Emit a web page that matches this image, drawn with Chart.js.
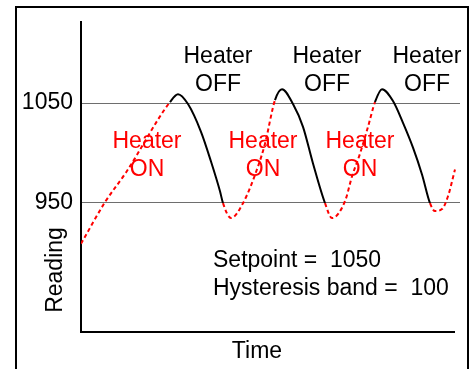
<!DOCTYPE html>
<html>
<head>
<meta charset="utf-8">
<script src="https://cdn.jsdelivr.net/npm/chart.js@4/dist/chart.umd.min.js"></script>
<style>
  body { margin: 0; background: #fff; }
  canvas { display: block; }
</style>
</head>
<body>
<canvas id="reading-chart" width="470" height="369"></canvas>
<script>
// reading over time, with the heater state for the segment that starts at each point
const timeValues = [0, 24, 45, 89, 97, 107, 120, 130, 139, 142, 150, 162, 177, 184, 194, 201, 212, 222, 232, 244,
                    251, 264, 271, 279, 287, 294, 301, 312, 322, 332, 341, 349, 354, 361, 367, 374];
const readingValues = [908, 950, 980, 1051, 1059, 1049, 1021, 991, 961, 949, 934, 949, 986, 1009, 1053, 1064, 1049, 1026, 989, 949,
                       934, 951, 976, 999, 1026, 1051, 1064, 1052, 1030, 1005, 978, 949, 941, 943, 956, 983];
const heaterState = ['ON', 'ON', 'ON', 'OFF', 'OFF', 'OFF', 'OFF', 'OFF', 'OFF', 'ON', 'ON', 'ON', 'ON', 'ON', 'OFF', 'OFF', 'OFF', 'OFF', 'OFF', 'ON',
                     'ON', 'ON', 'ON', 'ON', 'ON', 'OFF', 'OFF', 'OFF', 'OFF', 'OFF', 'OFF', 'ON', 'ON', 'ON', 'ON', 'ON'];
const yTickValues = [950, 1050];

const FONT = '23px "Liberation Sans", Arial, sans-serif';

const points = timeValues.map((t, i) => ({x: t, y: readingValues[i]}));

const decorations = {
    id: 'decorations',
    beforeDraw(chart) {
        const ctx = chart.ctx;
        ctx.save();
        ctx.fillStyle = '#fff';
        ctx.fillRect(0, 0, chart.width, chart.height);
        // outer frame
        ctx.strokeStyle = '#000';
        ctx.lineWidth = 2;
        ctx.beginPath();
        ctx.moveTo(16, chart.height);
        ctx.lineTo(16, 7);
        ctx.lineTo(468, 7);
        ctx.lineTo(468, chart.height);
        ctx.stroke();
        ctx.restore();
    },
    afterDraw(chart) {
        const ctx = chart.ctx;
        const area = chart.chartArea;
        const xScale = chart.scales.x;
        ctx.save();

        // time axis line
        ctx.strokeStyle = '#000';
        ctx.lineWidth = 2;
        ctx.beginPath();
        ctx.moveTo(area.left - 1, area.bottom);
        ctx.lineTo(xScale.getPixelForValue(timeValues[timeValues.length - 1]), area.bottom);
        ctx.stroke();

        ctx.font = FONT;
        ctx.textBaseline = 'alphabetic';
        ctx.textAlign = 'center';

        ctx.fillStyle = '#000';
        [218, 327, 427].forEach(cx => {
            ctx.fillText('Heater', cx, 63);
            ctx.fillText('OFF', cx, 91);
        });

        ctx.fillStyle = '#ff0000';
        [147, 263, 360].forEach(cx => {
            ctx.fillText('Heater', cx, 148);
            ctx.fillText('ON', cx, 176);
        });

        ctx.fillStyle = '#000';
        ctx.fillText('Time', 257, 358);

        ctx.textAlign = 'left';
        ctx.fillText('Setpoint =  1050', 213, 267);
        ctx.fillText('Hysteresis band =  100', 213, 295);

        ctx.translate(62, 270);
        ctx.rotate(-Math.PI / 2);
        ctx.textAlign = 'center';
        ctx.fillText('Reading', 0, 0);

        ctx.restore();
    }
};

new Chart(document.getElementById('reading-chart'), {
    type: 'line',
    data: {
        datasets: [{
            data: points,
            borderColor: '#000',
            borderWidth: 2,
            pointRadius: 0,
            cubicInterpolationMode: 'monotone',
            segment: {
                borderColor: c => heaterState[c.p0DataIndex] === 'ON' ? '#ff0000' : '#000',
                borderDash: c => heaterState[c.p0DataIndex] === 'ON' ? [4, 3] : undefined,
            }
        }]
    },
    options: {
        responsive: false,
        animation: false,
        devicePixelRatio: 1,
        layout: {padding: {top: 19, right: 10, bottom: 37, left: 0}},
        plugins: {legend: {display: false}, tooltip: {enabled: false}},
        scales: {
            x: {
                type: 'linear',
                display: false,
                min: 0,
                max: 379,
            },
            y: {
                min: 819,
                max: 1132,
                afterBuildTicks: scale => {
                    scale.ticks = yTickValues.map(v => ({value: v}));
                },
                afterFit: scale => {
                    scale.width = 81;
                },
                ticks: {
                    color: '#000',
                    padding: 8,
                    font: {family: '"Liberation Sans", Arial, sans-serif', size: 23},
                    callback: v => String(v),
                },
                grid: {
                    color: '#6e6e6e',
                    lineWidth: 1,
                    drawTicks: false,
                },
                border: {color: '#000', width: 2},
            }
        }
    },
    plugins: [decorations]
});
</script>
</body>
</html>
